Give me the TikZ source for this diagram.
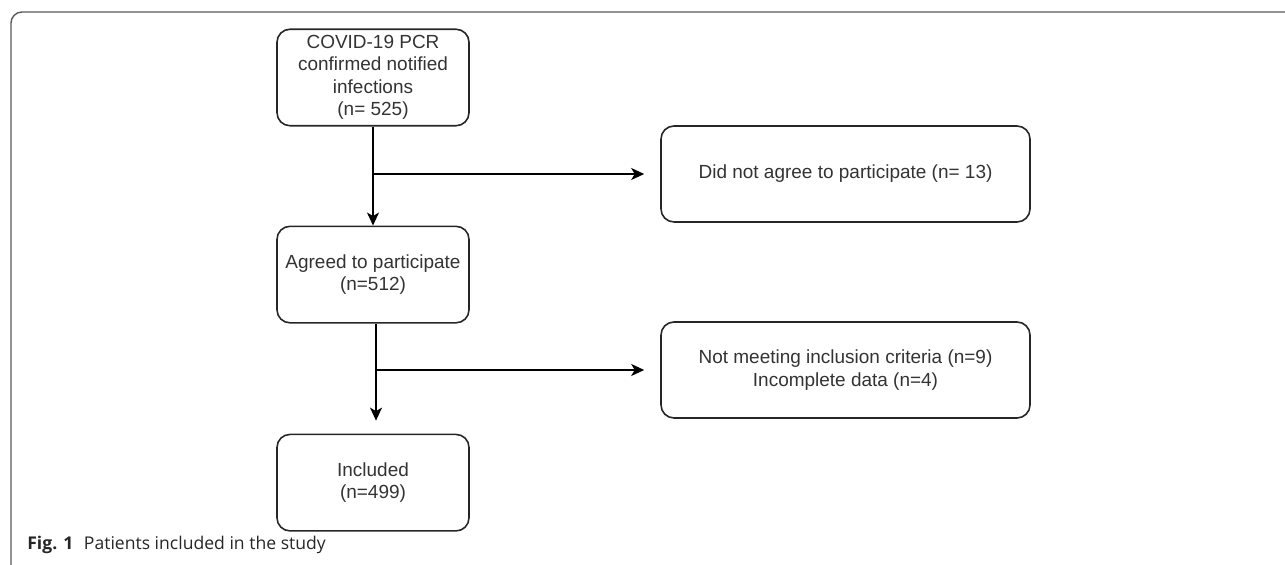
\documentclass[tikz,border=0pt]{standalone}
\usepackage{fontspec}
\setmainfont{Liberation Sans}
\newfontfamily\capfont{Open Sans}
\usetikzlibrary{calc, positioning, arrows.meta}

\begin{document}
\begin{tikzpicture}[
    node distance=1.98cm,
    stage/.style={rectangle, rounded corners=0.26cm, draw=black!85, line width=0.9pt, minimum width=3.84cm, minimum height=1.93cm, align=center, text=black!80, font=\fontsize{10.8}{12.8}\selectfont, inner sep=2pt},
    excluded/.style={stage, minimum width=7.38cm, minimum height=1.92cm},
    flow/.style={-{Stealth[length=2.6mm, width=2.4mm, inset=0.7mm]}, line width=0.9pt, color=black},
    frame/.style={draw=black!65, line width=0.8pt, rounded corners=0.22cm},
    caption_style/.style={anchor=west, inner sep=0pt, font=\capfont\fontsize{10}{12}\selectfont, text=black!85}
]
\useasboundingbox (0,0) rectangle (25.7,-11.3);

% outer figure frame
\draw[frame] (25.9,-0.24) -| (0.22,-11.5);

% main chain
\node[stage] (notified) at (7.46,-1.55) {COVID-19 PCR\\confirmed notified\\infections\\(n= 525)};
\node[stage, below=of notified] (agreed) {Agreed to participate\\(n=512)};
\node[stage, below=2.2cm of agreed] (included) {Included\\(n=499)};

% excluded boxes
\node[excluded] (refused) at (16.91,-3.48) {Did not agree to participate (n= 13)};
\node[excluded] (dropped) at (16.91,-7.40) {Not meeting inclusion criteria (n=9)\\Incomplete data (n=4)};

% connectors
\draw[flow] (notified.south) -- (agreed.north);
\draw[flow] (notified.south |- refused.west) -- ([xshift=-3.2mm]refused.west);
\draw[flow] ([xshift=0.6mm]agreed.south) -- ([xshift=0.6mm,yshift=2.6mm]included.north);
\draw[flow] ([xshift=0.6mm]agreed.south |- dropped.west) -- ([xshift=-3.2mm]dropped.west);

\node[caption_style] (caption) at (0.54,-10.9) {\textbf{Fig. 1}\hspace{0.6em}Patients included in the study};

\end{tikzpicture}
\end{document}
